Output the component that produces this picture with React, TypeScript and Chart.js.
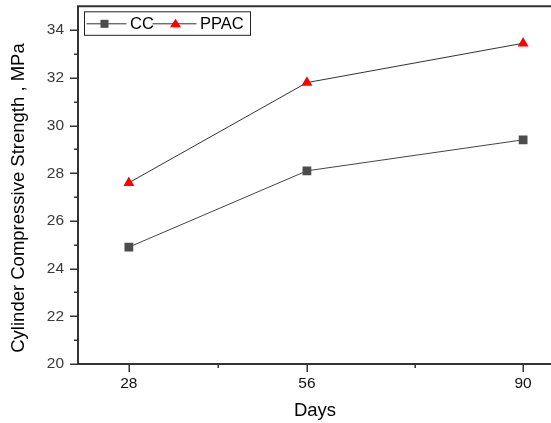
import React, { useEffect, useRef } from "react";
import { Chart, registerables } from "chart.js";

Chart.register(...registerables);

const days = [28, 56, 90];
const ccStrength = [24.9, 28.1, 29.4];
const ppacStrength = [27.6, 31.8, 33.45];
const seriesNames = ["CC", "PPAC"];
const yTickValues = [20, 22, 24, 26, 28, 30, 32, 34];
const yMinorTickValues = [21, 23, 25, 27, 29, 31, 33];
const xTickValues = [28, 56, 90];
const xMinorTickValues = [42, 73];
const xAxisTitle = "Days";
const yAxisTitle = "Cylinder Compressive Strength , MPa";

const FONT = '"Liberation Sans", Arial, sans-serif';

const zeroPad = (s: any) => {
  s.paddingTop = 0;
  s.paddingBottom = 0;
  s.paddingLeft = 0;
  s.paddingRight = 0;
};

const framePlugin = {
  id: "frame",
  afterDraw(chart: any) {
    const { ctx, chartArea, scales } = chart;
    const { left, right, top, bottom } = chartArea;
    const xs = scales.x;
    const ys = scales.y;
    ctx.save();
    // frame
    ctx.strokeStyle = "#333";
    ctx.lineWidth = 2;
    ctx.beginPath();
    ctx.moveTo(left, top);
    ctx.lineTo(right + 10, top);
    ctx.moveTo(left, top - 1);
    ctx.lineTo(left, bottom + 1);
    ctx.moveTo(left - 1, bottom);
    ctx.lineTo(right + 10, bottom);
    ctx.stroke();
    // ticks
    ctx.lineWidth = 1.5;
    ctx.beginPath();
    yTickValues.forEach((v) => {
      const py = Math.round(ys.getPixelForValue(v)) + 0.25;
      ctx.moveTo(left - 8, py);
      ctx.lineTo(left, py);
    });
    yMinorTickValues.forEach((v) => {
      const py = Math.round(ys.getPixelForValue(v)) + 0.25;
      ctx.moveTo(left - 4, py);
      ctx.lineTo(left, py);
    });
    xTickValues.forEach((v) => {
      const px = Math.round(xs.getPixelForValue(v)) + 0.25;
      ctx.moveTo(px, bottom);
      ctx.lineTo(px, bottom + 8);
    });
    xMinorTickValues.forEach((v) => {
      const px = Math.round(xs.getPixelForValue(v)) + 0.25;
      ctx.moveTo(px, bottom);
      ctx.lineTo(px, bottom + 4);
    });
    ctx.stroke();

    // axis titles
    ctx.fillStyle = "#000";
    ctx.font = `18.5px ${FONT}`;
    ctx.textAlign = "center";
    ctx.textBaseline = "middle";
    ctx.fillText(xAxisTitle, 315, 411);
    ctx.save();
    ctx.translate(19, 198);
    ctx.rotate(-Math.PI / 2);
    ctx.fillText(yAxisTitle, 0, 0);
    ctx.restore();

    // legend
    const lx = left + 6.5;
    const ly = top + 5.5;
    ctx.strokeStyle = "#222";
    ctx.lineWidth = 1;
    ctx.strokeRect(lx, ly, 166, 23.5);
    const cy = ly + 12;
    ctx.strokeStyle = "#333";
    ctx.beginPath();
    ctx.moveTo(lx + 2, cy);
    ctx.lineTo(lx + 42, cy);
    ctx.moveTo(lx + 68, cy);
    ctx.lineTo(lx + 112, cy);
    ctx.stroke();
    ctx.fillStyle = "#4d4d4d";
    ctx.fillRect(lx + 20 - 4, cy - 4, 8, 8);
    ctx.fillStyle = "#ff0000";
    ctx.beginPath();
    const tx = lx + 91;
    ctx.moveTo(tx, cy - 5);
    ctx.lineTo(tx + 5.5, cy + 3.5);
    ctx.lineTo(tx - 5.5, cy + 3.5);
    ctx.closePath();
    ctx.fill();
    ctx.fillStyle = "#000";
    ctx.font = `16.5px ${FONT}`;
    ctx.textAlign = "left";
    ctx.textBaseline = "middle";
    ctx.fillText(seriesNames[0], lx + 45.5, cy + 0.5);
    ctx.fillText(seriesNames[1], lx + 115.5, cy + 0.5);
    ctx.restore();
  },
};

export default function App() {
  const ref = useRef<HTMLCanvasElement | null>(null);
  useEffect(() => {
    if (!ref.current) return;
    const chart = new Chart(ref.current, {
      type: "line",
      data: {
        datasets: [
          {
            label: seriesNames[0],
            data: days.map((d, i) => ({ x: d, y: ccStrength[i] })),
            borderColor: "#444",
            borderWidth: 1,
            pointStyle: "rect",
            pointRadius: 6.2,
            pointBorderWidth: 0,
            pointBackgroundColor: "#4d4d4d",
            pointBorderColor: "#4d4d4d",
          },
          {
            label: seriesNames[1],
            data: days.map((d, i) => ({ x: d, y: ppacStrength[i] })),
            borderColor: "#333",
            borderWidth: 1,
            pointStyle: "triangle",
            pointRadius: 6.3,
            pointBorderWidth: 0,
            pointBackgroundColor: "#ff0000",
            pointBorderColor: "#ff0000",
          },
        ],
      },
      options: {
        animation: false,
        responsive: false,
        layout: { padding: { top: 5, left: 0, right: 0, bottom: 0 } },
        plugins: { legend: { display: false }, tooltip: { enabled: false } },
        scales: {
          x: {
            type: "linear",
            min: 20,
            max: 100,
            afterFit: (s: any) => {
              s.height = 59;
              zeroPad(s);
            },
            afterBuildTicks: (s: any) => {
              s.ticks = xTickValues.map((v) => ({ value: v }));
            },
            grid: { display: false, tickLength: 0, drawTicks: false },
            border: { display: false },
            ticks: {
              padding: 10,
              color: "#111",
              font: { family: FONT, size: 15.5 },
              maxRotation: 0,
              autoSkip: false,
            },
          },
          y: {
            type: "linear",
            min: 20,
            max: 35,
            afterFit: (s: any) => {
              s.width = 78;
              zeroPad(s);
            },
            afterBuildTicks: (s: any) => {
              s.ticks = yTickValues.map((v) => ({ value: v }));
            },
            grid: { display: false, tickLength: 0, drawTicks: false },
            border: { display: false },
            ticks: {
              padding: 14,
              color: "#3a3a3a",
              font: { family: FONT, size: 15.5 },
              autoSkip: false,
            },
          },
        },
      },
      plugins: [framePlugin],
    });
    return () => chart.destroy();
  }, []);
  return (
    <div
      style={{
        position: "fixed",
        left: 0,
        top: 0,
        width: 551,
        height: 423,
        overflow: "hidden",
        background: "#fff",
      }}
    >
      <canvas ref={ref} width={593} height={423} style={{ display: "block" }} />
    </div>
  );
}
